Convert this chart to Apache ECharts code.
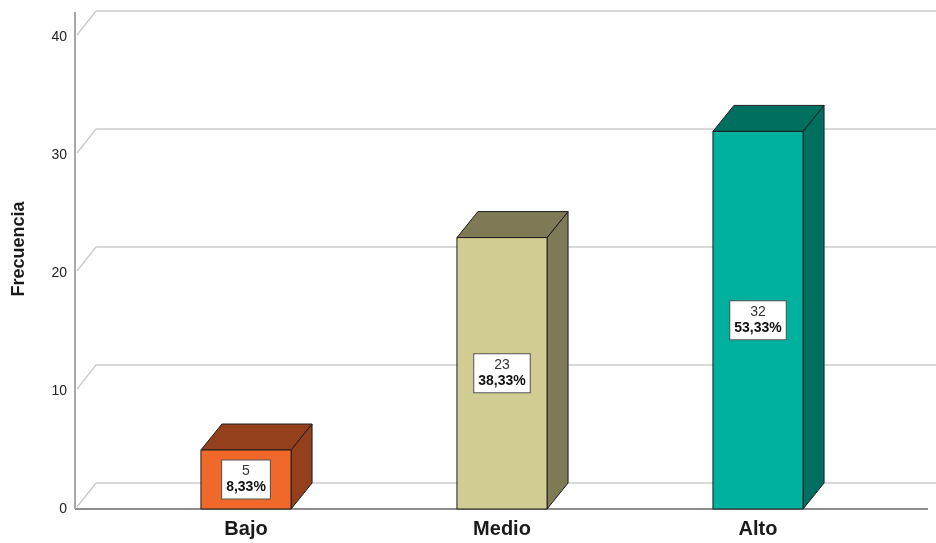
<!DOCTYPE html>
<html><head><meta charset="utf-8">
<script src="https://cdn.jsdelivr.net/npm/echarts@6/dist/echarts.min.js"></script>
<style>html,body{margin:0;padding:0;background:#fff}#c{width:936px;height:543px}</style>
</head><body><div id="c"></div>
<script>
const categories = ['Bajo', 'Medio', 'Alto'];
const counts = [5, 23, 32];
const percents = ['8,33%', '38,33%', '53,33%'];
const yTicks = [0, 10, 20, 30, 40];
const frontColors = ['#F0692B', '#D1CC91', '#00B29E'];
const sideColors = ['#94401C', '#7E7A55', '#006F5F'];
const DX = 21, DY = 26, AXIS_OFFSET = 43;
const FONT = '"Liberation Sans", Arial, sans-serif';

const chart = echarts.init(document.getElementById('c'), null, {renderer: 'canvas'});

chart.setOption({
  animation: false,
  backgroundColor: '#ffffff',
  grid: {left: 118, right: 50, top: 37, bottom: 34},
  xAxis: {
    type: 'category', data: categories,
    axisLine: {show: false}, axisTick: {show: false},
    axisLabel: {margin: 10, fontFamily: FONT, fontSize: 20, fontWeight: 'bold', color: '#1a1a1a'}
  },
  yAxis: {
    type: 'value', min: 0, max: 40, interval: 10, offset: AXIS_OFFSET,
    axisLine: {show: false}, axisTick: {show: false}, splitLine: {show: false},
    axisLabel: {margin: 8, fontFamily: FONT, fontSize: 14, color: '#222', padding: [5, 0, 0, 0]}
  },
  graphic: [{
    type: 'text', x: 19, y: 249, rotation: Math.PI / 2,
    style: {text: 'Frecuencia', font: 'bold 18px ' + FONT, fill: '#1a1a1a', align: 'center', verticalAlign: 'middle'}
  }],
  series: [
    {
      type: 'custom', z: 1, silent: true, clip: false,
      data: yTicks.map(v => [0, v]),
      renderItem: function (params, api) {
        const cs = params.coordSys;
        const ax = cs.x - AXIS_OFFSET;
        const v = api.value(1);
        const y = api.coord([0, v])[1];
        const children = [{
          type: 'polyline',
          shape: {points: [[ax + 2, y - 2], [ax + DX, y - DY], [ax + DX + 1200, y - DY]]},
          style: {stroke: '#cdcdcd', lineWidth: 1.5, fill: null}
        }];
        if (v === 0) {
          const yTop = api.coord([0, yTicks[yTicks.length - 1]])[1];
          children.push({
            type: 'line', shape: {x1: ax, y1: y, x2: cs.x + cs.width + 42, y2: y},
            style: {stroke: '#6a6a6a', lineWidth: 1.5}
          });
          children.push({
            type: 'line', shape: {x1: ax, y1: y, x2: ax, y2: yTop - DY + 1},
            style: {stroke: '#a8a8a8', lineWidth: 2}
          });
        }
        return {type: 'group', children: children};
      }
    },
    {
      type: 'custom', z: 2, silent: true, clip: false,
      data: counts.map((v, i) => [i, v]),
      renderItem: function (params, api) {
        const i = params.dataIndex;
        const top = api.coord([api.value(0), api.value(1)]);
        const base = api.coord([api.value(0), 0]);
        const bw = api.size([1, 0])[0] * 0.352;
        const x0 = top[0] - bw / 2, x1 = top[0] + bw / 2, yt = top[1], yb = base[1];
        const stroke = '#1c1c1c';
        return {
          type: 'group', children: [
            {type: 'polygon', shape: {points: [[x1, yt], [x1 + DX, yt - DY], [x1 + DX, yb - DY], [x1, yb]]},
             style: {fill: sideColors[i], stroke: stroke, lineWidth: 1}},
            {type: 'polygon', shape: {points: [[x0, yt], [x0 + DX, yt - DY], [x1 + DX, yt - DY], [x1, yt]]},
             style: {fill: sideColors[i], stroke: stroke, lineWidth: 1}},
            {type: 'rect', shape: {x: x0, y: yt, width: bw, height: yb - yt},
             style: {fill: frontColors[i], stroke: stroke, lineWidth: 1}},
            {type: 'text', x: top[0], y: (yt + yb) / 2,
             style: {
               text: '{a|' + counts[i] + '}\n{b|' + percents[i] + '}',
               align: 'center', verticalAlign: 'middle',
               backgroundColor: '#ffffff', borderColor: '#555555', borderWidth: 1,
               padding: [3, 4, 3, 4],
               rich: {
                 a: {fontFamily: FONT, fontSize: 14, fill: '#333', lineHeight: 16, align: 'center'},
                 b: {fontFamily: FONT, fontSize: 14, fontWeight: 'bold', fill: '#111', lineHeight: 16, align: 'center'}
               }
             }}
          ]
        };
      }
    }
  ]
});
</script>
</body></html>
